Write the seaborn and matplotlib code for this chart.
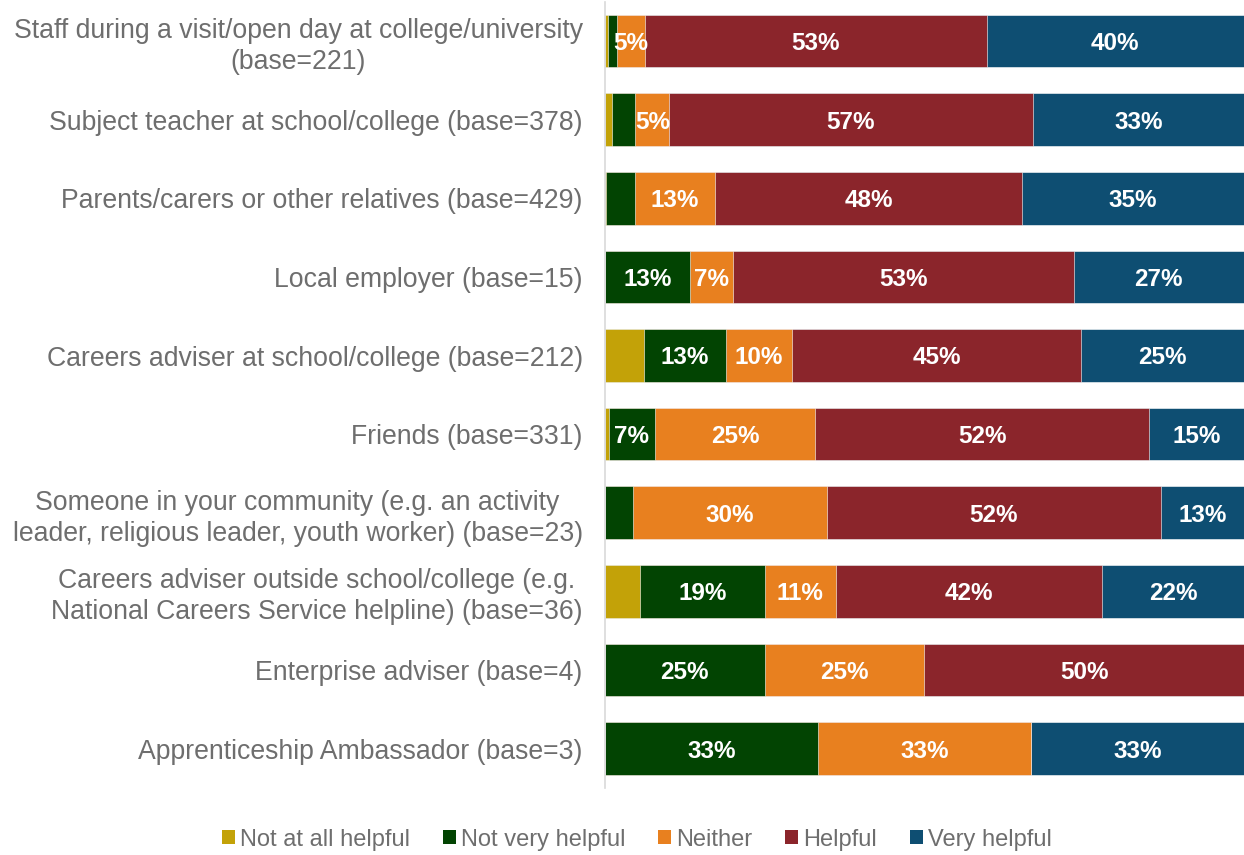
import matplotlib
matplotlib.use("Agg")
import matplotlib.pyplot as plt
import seaborn as sns
import numpy as np
import pandas as pd
from matplotlib.patches import Patch

categories = [
    "Staff during a visit/open day at college/university\n(base=221)",
    "Subject teacher at school/college (base=378)",
    "Parents/carers or other relatives (base=429)",
    "Local employer (base=15)",
    "Careers adviser at school/college (base=212)",
    "Friends (base=331)",
    "Someone in your community (e.g. an activity\nleader, religious leader, youth worker) (base=23)",
    "Careers adviser outside school/college (e.g.\nNational Careers Service helpline) (base=36)",
    "Enterprise adviser (base=4)",
    "Apprenticeship Ambassador (base=3)",
]
series = ["Not at all helpful", "Not very helpful", "Neither", "Helpful", "Very helpful"]

not_at_all = [0.45, 1.06, 0.23, 0.0, 6.13, 0.60, 0.0, 5.56, 0.0, 0.0]
not_very = [1.36, 3.70, 4.43, 13.33, 12.74, 7.25, 4.35, 19.44, 25.0, 33.33]
neither = [4.52, 5.29, 12.59, 6.67, 10.38, 25.08, 30.43, 11.11, 25.0, 33.33]
helpful = [53.39, 56.88, 48.02, 53.33, 45.28, 52.27, 52.17, 41.67, 50.0, 0.0]
very_helpful = [40.27, 33.07, 34.73, 26.67, 25.47, 14.80, 13.04, 22.22, 0.0, 33.33]

colors = ["#C3A208", "#024402", "#E8801F", "#8B252B", "#0E4E72"]
text_gray = "#6E6E6E"

values = np.array([not_at_all, not_very, neither, helpful, very_helpful])
cum = np.cumsum(values, axis=0)

df = pd.DataFrame({"category": categories})
for i, s in enumerate(series):
    df[s + "_cum"] = cum[i]

plt.rcParams["font.family"] = ["Liberation Sans", "DejaVu Sans"]
fig = plt.figure(figsize=(12.44, 8.55), dpi=100)
ax = fig.add_axes([0.4863, 0.0784, 0.5137, 0.9196])

for i in reversed(range(len(series))):
    sns.barplot(data=df, y="category", x=series[i] + "_cum", color=colors[i],
                orient="h", order=categories, width=0.67, saturation=1,
                edgecolor="white", linewidth=0.4, ax=ax)

for i, s in enumerate(series):
    if i == 0:
        continue
    for j in range(len(categories)):
        v = values[i, j]
        if round(v) >= 5:
            xc = cum[i, j] - v / 2
            ax.text(xc, j + 0.03, f"{round(v):.0f}%", ha="center", va="center",
                    color="white", fontsize=17.5, fontweight="bold")

ax.set_xlim(0, 100)
ax.set_ylim(len(categories) - 0.5, -0.5)
ax.set_xlabel("")
ax.set_ylabel("")
ax.set_xticks([])
for sp in ["top", "right", "bottom"]:
    ax.spines[sp].set_visible(False)
ax.spines["left"].set_color("#D9D9D9")
ax.spines["left"].set_linewidth(1.2)
ax.tick_params(axis="y", length=0, pad=16, labelsize=19.2, labelcolor=text_gray)
for lab in ax.get_yticklabels():
    lab.set_multialignment("center")
    lab.set_linespacing(1.25)

handles = [Patch(facecolor=c, edgecolor="none", label=s) for c, s in zip(colors, series)]
fig.legend(handles=handles, loc="center", bbox_to_anchor=(0.512, 0.018), ncol=5,
           frameon=False, fontsize=17, labelcolor=text_gray, handlelength=0.55,
           handleheight=0.55, handletextpad=0.2, columnspacing=1.4)

fig.savefig("out.png", dpi=100)
